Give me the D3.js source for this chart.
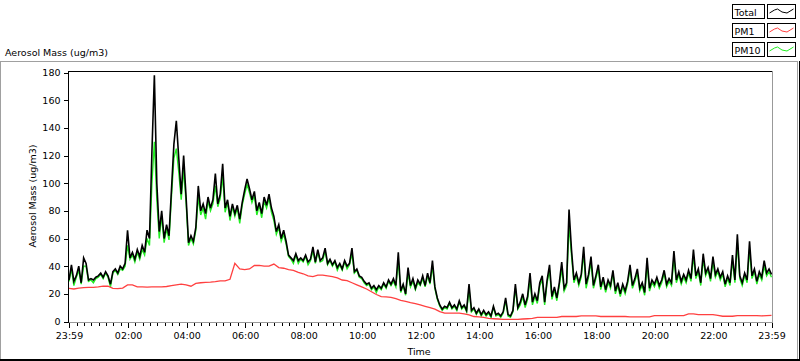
<!DOCTYPE html>
<html>
<head>
<meta charset="utf-8">
<script src="https://cdn.jsdelivr.net/npm/d3@7"></script>
<style>
  html, body { margin: 0; padding: 0; background: #fff; }
  svg { display: block; font-family: "DejaVu Sans", sans-serif; font-size: 9.5px; }
</style>
</head>
<body>
<svg id="chart" width="800" height="361"></svg>
<script>
// ---------------- DATA ----------------
const startLabel = "23:59";            // first sample (previous day)
const totalStepMin = 5;                // Total / PM10 sampled every 5 min
const pm1StepMin = 10;                 // PM1 every 10 min
const seriesNames = ["Total", "PM1", "PM10"];
const seriesColors = ["#000000", "#ff4040", "#22ee22"];
const yTicks = [0, 20, 40, 60, 80, 100, 120, 140, 160, 180];
const xTickLabels = ["23:59","02:00","04:00","06:00","08:00","10:00","12:00","14:00","16:00","18:00","20:00","22:00","23:59"];

const total = [
  30, 41, 29, 33, 40, 28, 46, 42, 30, 31, 30, 32,
  33, 35, 32, 36, 33, 27, 36, 38, 35, 40, 38, 42,
  66, 46, 50, 45, 52, 47, 55, 50, 66, 60, 123, 178,
  100, 65, 80, 60, 70, 62, 95, 128, 145, 118, 92, 120,
  90, 57, 62, 58, 68, 98, 80, 85, 78, 90, 82, 88,
  107, 85, 92, 114, 82, 88, 76, 85, 78, 84, 74, 86,
  95, 103, 96, 88, 94, 80, 86, 78, 90, 84, 92, 82,
  76, 65, 70, 60, 66, 58, 48, 46, 44, 49, 44, 46,
  44, 48, 43, 45, 54, 43, 52, 44, 46, 53, 42, 45,
  41, 44, 39, 42, 38, 44, 40, 42, 53, 36, 38, 33,
  32, 29, 27, 28, 24, 26, 23, 26, 24, 28, 25, 30,
  27, 31, 26, 50, 22, 27, 20, 39, 26, 31, 24, 30,
  27, 33, 26, 35, 28, 44, 25, 17, 12, 9, 11, 10,
  14, 10, 12, 9, 15, 10, 12, 8, 27, 8, 10, 6,
  9, 5, 8, 5, 7, 4, 11, 5, 6, 4, 7, 17,
  5, 4, 8, 27, 10, 14, 20, 12, 18, 35, 14, 20,
  15, 28, 33, 14, 30, 41, 18, 25, 17, 28, 43, 24,
  28, 81, 52, 30, 35, 28, 34, 54, 27, 34, 47, 26,
  33, 41, 25, 32, 23, 30, 26, 37, 22, 28, 20, 27,
  22, 29, 41, 26, 31, 38, 24, 28, 21, 46, 24, 30,
  27, 32, 26, 30, 37, 27, 31, 28, 51, 30, 36, 29,
  34, 30, 37, 31, 52, 33, 38, 28, 49, 35, 39, 31,
  47, 34, 38, 32, 36, 27, 33, 28, 48, 30, 63, 33,
  28, 35, 30, 58, 33, 38, 29, 36, 32, 44, 35, 38, 34
];

const pm10 = [
  29, 38, 26, 32, 37, 27, 40, 40, 29, 30, 28, 31,
  32, 34, 31, 35, 32, 25, 35, 37, 34, 38, 37, 40,
  55, 45, 48, 43, 50, 45, 52, 48, 60, 55, 100, 130,
  88, 60, 76, 57, 67, 59, 90, 118, 125, 108, 88, 110,
  86, 55, 60, 56, 66, 90, 77, 82, 74, 87, 80, 85,
  98, 83, 89, 105, 79, 86, 73, 83, 76, 82, 71, 84,
  92, 99, 93, 86, 91, 77, 84, 75, 87, 82, 89, 79,
  73, 63, 68, 58, 63, 56, 47, 45, 42, 48, 42, 45,
  43, 47, 41, 44, 51, 42, 50, 43, 44, 51, 41, 44,
  40, 43, 37, 41, 37, 43, 38, 41, 49, 35, 37, 32,
  31, 28, 26, 27, 23, 25, 21, 25, 23, 27, 24, 29,
  26, 29, 25, 44, 21, 26, 19, 35, 25, 29, 23, 28,
  26, 31, 25, 33, 27, 40, 24, 16, 11, 8, 10, 9,
  13, 9, 11, 8, 14, 9, 11, 7, 23, 7, 9, 5,
  8, 4, 7, 4, 6, 3, 10, 4, 5, 3, 6, 15,
  4, 3, 7, 24, 9, 12, 18, 10, 16, 30, 12, 18,
  13, 26, 30, 12, 28, 37, 16, 23, 15, 26, 38, 22,
  26, 70, 48, 28, 33, 26, 32, 49, 24, 32, 43, 24,
  31, 38, 23, 30, 21, 28, 24, 35, 20, 26, 18, 25,
  20, 27, 38, 24, 29, 35, 22, 26, 19, 41, 22, 28,
  25, 30, 24, 28, 35, 25, 29, 26, 46, 28, 34, 27,
  32, 28, 35, 29, 47, 31, 36, 26, 45, 33, 37, 29,
  43, 32, 36, 30, 34, 25, 31, 26, 44, 28, 57, 31,
  26, 33, 28, 52, 31, 36, 27, 34, 30, 40, 33, 36, 32
];

const pm1 = [
  24, 23.5, 24.2, 24.5, 24.6, 24.6,
  25, 25.5, 25.5, 24, 23.8, 24.2,
  26.5, 26.5, 25, 25, 24.8, 25,
  25, 25, 25.3, 26, 26.5, 27,
  26.5, 25.5, 27.5, 28, 28.3, 28.5,
  28.8, 29.3, 29.3, 30.5, 42, 38,
  37.5, 38, 40.5, 40.5, 40, 40,
  41.5, 39, 38.5, 37.5, 37, 35.5,
  34.5, 33, 32.5, 33.5, 33.5, 33,
  32.5, 31.5, 30, 29.5, 28, 26.5,
  25, 23.5, 21.5, 19.5, 18, 17.8,
  17.5, 16.5, 15.2, 14.5, 13.7, 13,
  12, 11, 10, 9, 7.2, 6,
  6, 6, 6, 5.5, 4.8, 3.6,
  3.4, 3, 2.2, 2, 1.8, 1.6,
  1.5, 1.5, 1.6, 1.8, 2, 2.2,
  3, 3, 3, 3, 3, 3.6,
  3.6, 3.6, 3.6, 4, 4, 4,
  4, 3.6, 3.6, 3.6, 3.6, 3.6,
  3.6, 3.4, 3.4, 3.4, 3.4, 3.4,
  4.3, 4.3, 4.3, 4.3, 4.3, 4.3,
  4.3, 5.5, 5.5, 5, 5, 5,
  5, 4.5, 3.8, 3.8, 3.8, 4.3,
  4.3, 4.3, 4.3, 4.3, 4, 4.3, 4.5
];

// ---------------- CHART ----------------
const svg = d3.select("#chart");
const parseHM = d3.timeParse("%H:%M");
const t0 = parseHM(startLabel);                       // day 0, 23:59
const t1 = d3.timeDay.offset(t0, 1);                  // day 1, 23:59
const timeAt = (i, step) => d3.timeMinute.offset(t0, i * step);

const x = d3.scaleTime().domain([t0, t1]).range([69, 771.5]);
const y = d3.scaleLinear().domain([0, 180]).range([321.5, 72.5]);

// outer panel
const panel = svg.append("g").attr("shape-rendering", "crispEdges");
panel.append("line").attr("x1", 0).attr("x2", 798).attr("y1", 61.5).attr("y2", 61.5).attr("stroke", "#a0a0a0");
panel.append("line").attr("x1", 0.5).attr("x2", 0.5).attr("y1", 61).attr("y2", 360).attr("stroke", "#a0a0a0");
panel.append("line").attr("x1", 797.5).attr("x2", 797.5).attr("y1", 61).attr("y2", 359).attr("stroke", "#a0a0a0");
panel.append("line").attr("x1", 799.5).attr("x2", 799.5).attr("y1", 61).attr("y2", 361).attr("stroke", "#000");
panel.append("line").attr("x1", 0).attr("x2", 800).attr("y1", 359.5).attr("y2", 359.5).attr("stroke", "#000");
panel.append("line").attr("x1", 0).attr("x2", 800).attr("y1", 360.5).attr("y2", 360.5).attr("stroke", "#000");

// title
svg.append("text").attr("x", 5).attr("y", 55.5).attr("fill", "#000").text("Aerosol Mass (ug/m3)");

// clip
svg.append("clipPath").attr("id", "plotclip").append("rect")
  .attr("x", 69).attr("y", 72).attr("width", 703).attr("height", 250);

const lineGen = (step) => d3.line()
  .x((d, i) => x(timeAt(i, step)))
  .y(d => y(d));

const plot = svg.append("g").attr("clip-path", "url(#plotclip)");
plot.append("path").datum(pm10).attr("d", lineGen(totalStepMin))
  .attr("fill", "none").attr("stroke", seriesColors[2]).attr("stroke-width", 1.4);
plot.append("path").datum(pm1).attr("d", lineGen(pm1StepMin))
  .attr("fill", "none").attr("stroke", seriesColors[1]).attr("stroke-width", 1.3);
plot.append("path").datum(total).attr("d", lineGen(totalStepMin))
  .attr("fill", "none").attr("stroke", seriesColors[0]).attr("stroke-width", 1.6)
  .attr("stroke-linejoin", "miter");

// plot frame
const frame = svg.append("g").attr("shape-rendering", "crispEdges");
frame.append("line").attr("x1", 68).attr("x2", 773).attr("y1", 71.5).attr("y2", 71.5).attr("stroke", "#000");
frame.append("line").attr("x1", 68.5).attr("x2", 68.5).attr("y1", 71).attr("y2", 323).attr("stroke", "#000");
frame.append("line").attr("x1", 772.5).attr("x2", 772.5).attr("y1", 71).attr("y2", 323).attr("stroke", "#999");
frame.append("line").attr("x1", 68).attr("x2", 773).attr("y1", 322.5).attr("y2", 322.5).attr("stroke", "#999");

// x axis
const majorTimes = xTickLabels.map((s, i) =>
  i === 0 ? t0 : (i === xTickLabels.length - 1 ? t1 : d3.timeDay.offset(parseHM(s), 1)));
const minorTimes = d3.timeMinute.every(15).range(d3.timeMinute.offset(t0, 1), t1)
  .filter(t => !majorTimes.some(m => +m === +t));
minorTimes.unshift(t0);

const xMinor = svg.append("g").attr("transform", "translate(0,322.5)")
  .call(d3.axisBottom(x).tickValues(minorTimes).tickSize(3).tickFormat(""));
const xMajor = svg.append("g").attr("transform", "translate(0,322.5)")
  .call(d3.axisBottom(x).tickValues(majorTimes).tickSize(5).tickPadding(5)
    .tickFormat((d, i) => xTickLabels[i]));
[xMinor, xMajor].forEach(g => {
  g.select(".domain").remove();
  g.selectAll("line").attr("stroke", "#000").attr("shape-rendering", "crispEdges");
  g.selectAll("text").attr("fill", "#000").style("font-family", "DejaVu Sans").style("font-size", "9.5px");
});

// y axis
const yAx = svg.append("g").attr("transform", "translate(68.5,0)")
  .call(d3.axisLeft(y).tickValues(yTicks).tickSize(5).tickPadding(3));
yAx.select(".domain").remove();
yAx.selectAll("line").attr("stroke", "#000").attr("shape-rendering", "crispEdges");
yAx.selectAll("text").attr("fill", "#000").style("font-family", "DejaVu Sans").style("font-size", "9.5px");

// axis titles
svg.append("text").attr("x", 419).attr("y", 355).attr("text-anchor", "middle").text("Time");
svg.append("text").attr("transform", "translate(35.5,196) rotate(-90)")
  .attr("text-anchor", "middle").text("Aerosol Mass (ug/m3)");

// legend
const legendTops = [4.5, 23.5, 42.5];
const zig = [[2, 8.5], [7, 5.5], [10, 4.5], [14.5, 7.5], [19.5, 8.5], [26, 4.5]];
seriesNames.forEach((name, i) => {
  const g = svg.append("g").attr("transform", `translate(0,${legendTops[i]})`);
  g.append("rect").attr("x", 732.5).attr("y", 0).attr("width", 32).attr("height", 14)
    .attr("fill", "#fff").attr("stroke", "#000").attr("shape-rendering", "crispEdges");
  g.append("text").attr("x", 734.5).attr("y", 11).attr("fill", "#000").text(name);
  g.append("rect").attr("x", 767.5).attr("y", 0).attr("width", 28).attr("height", 14)
    .attr("fill", "#fff").attr("stroke", "#000").attr("shape-rendering", "crispEdges");
  g.append("path").attr("d", d3.line()(zig.map(p => [767.5 + p[0], p[1]])))
    .attr("fill", "none").attr("stroke", seriesColors[i]).attr("stroke-width", 1);
});
</script>
</body>
</html>
